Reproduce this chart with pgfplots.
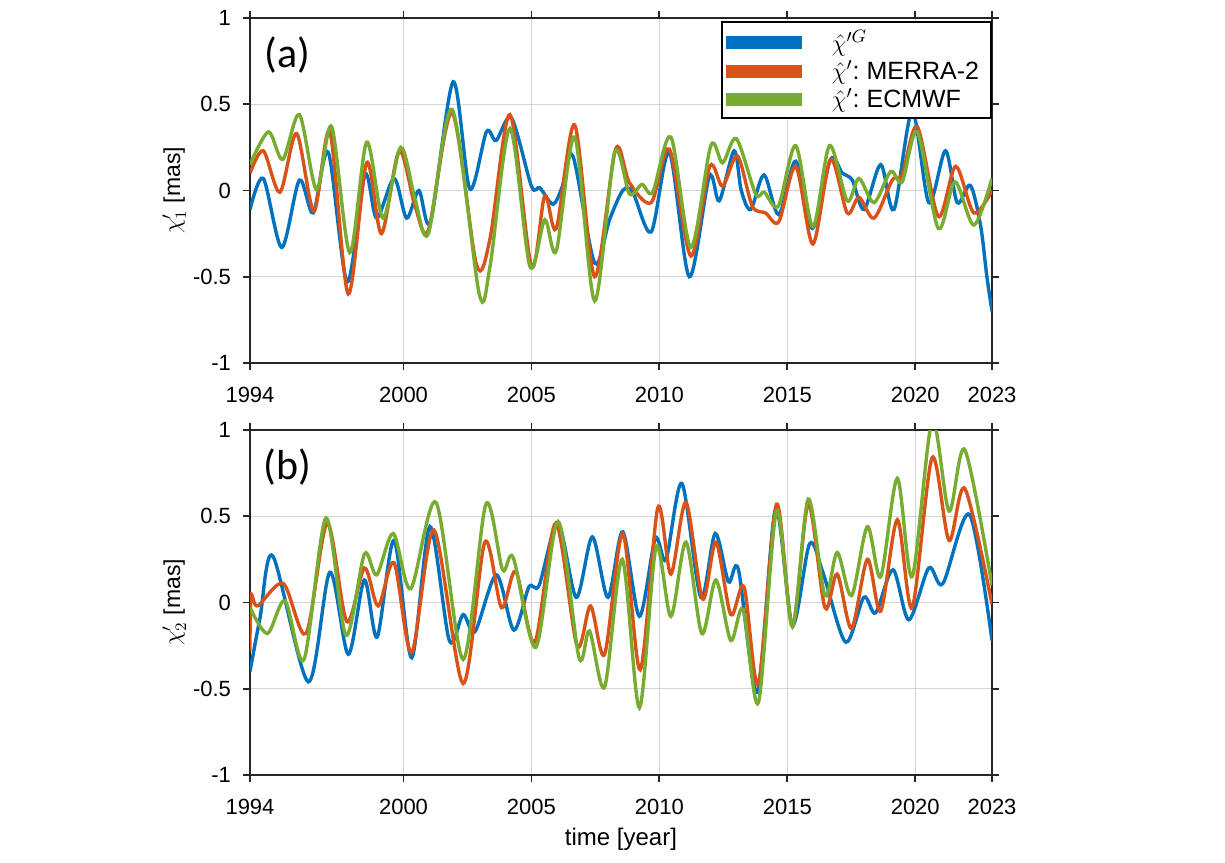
\documentclass[border=0pt]{standalone}
\usepackage{pgfplots}
\pgfplotsset{compat=1.18}
\usepackage{fontspec}
\setmainfont{Liberation Sans}
\newfontfamily\calibri{Carlito}
\definecolor{mblue}{rgb}{0,0.447,0.741}
\definecolor{morange}{rgb}{0.85,0.325,0.098}
\definecolor{mgreen}{rgb}{0.466,0.674,0.188}
\pgfplotsset{
  myax/.style={
    scale only axis, width=371pt, height=172.5pt,
    xmin=1994, xmax=2023, ymin=-1, ymax=1,
    xtick={1994,2000,2005,2010,2015,2020,2023},
    xticklabels={1994,2000,2005,2010,2015,2020,2023},
    ytick={-1,-0.5,0,0.5,1},
    yticklabels={-1,-0.5,0,0.5,1},
    grid=major, grid style={black!17, line width=0.7pt},
    tick align=outside, tick pos=both,
    xticklabel pos=lower, yticklabel pos=left,
    major tick length=3.5pt,
    axis line style={line width=0.9pt, black!85},
    tick style={line width=0.9pt, black!85},
    ticklabel style={font=\fontsize{11}{13}\selectfont},
    xticklabel style={yshift=-5pt},
    yticklabel style={xshift=-2.5pt},
    every axis y label/.style={at={(rel axis cs:-0.102,0.5)}, rotate=90, anchor=center, font=\fontsize{11.5}{13}\selectfont},
    every axis x label/.style={at={(rel axis cs:0.5,0)}, yshift=-32pt, anchor=center, font=\fontsize{12}{14}\selectfont},
    every axis plot/.append style={line width=1.7pt, smooth},
  }
}
\begin{document}
\begin{tikzpicture}
\path[use as bounding box] (0,0) rectangle (612.5pt,431pt);
% ---------------- panel (a)
\begin{axis}[myax, at={(125pt,249.5pt)}, anchor=south west,
  ylabel={$\chi_1'$ [mas]},
  legend style={at={(rel axis cs:1,0.99)}, anchor=north east, draw=black, line width=0.9pt,
    font=\fontsize{12.5}{14}\selectfont, row sep=-0.9pt, inner xsep=3pt, inner ysep=2pt,
    cells={anchor=west}},
  legend image code/.code={\draw[#1, line width=6.3pt, overlay] (-1pt,0pt) -- (37pt,0pt); \path[draw=none, fill=none] (0pt,0pt) -- (50pt,0pt);},
  legend cell align=left]
\addplot[mblue] coordinates {
(1994.0,-0.11) (1994.52,0.07) (1995.24,-0.33) (1995.93,0.06) (1996.47,-0.13)
(1997.06,0.22) (1997.8,-0.53) (1998.49,0.09) (1998.95,-0.16) (1999.63,0.07)
(2000.12,-0.16) (2000.6,0.0) (2001.06,-0.18) (2001.94,0.63) (2002.59,0.01)
(2003.24,0.34) (2003.62,0.29) (2004.22,0.42) (2005.0,0.025) (2005.33,0.015)
(2005.84,-0.08) (2006.2,0.02) (2006.62,0.2) (2007.47,-0.42) (2008.05,-0.17)
(2008.57,0.0) (2008.96,-0.01) (2009.68,-0.24) (2010.39,0.22) (2011.17,-0.5)
(2011.95,0.08) (2012.34,-0.06) (2012.92,0.23) (2013.2,0.0) (2013.57,-0.11)
(2014.09,0.09) (2014.67,-0.14) (2015.33,0.17) (2015.98,-0.22) (2016.69,0.18)
(2017.15,0.10) (2017.54,0.06) (2018.0,-0.11) (2018.65,0.15) (2019.17,-0.11)
(2019.88,0.46) (2020.53,-0.07) (2021.18,0.23) (2021.64,-0.07) (2022.15,0.03)
(2022.55,-0.2) (2022.8,-0.5) (2023.0,-0.7)
};
\addlegendentry{$\hat{\chi}'^{G}$\hspace*{1pt}}
\addplot[morange] coordinates {
(1994.0,0.10) (1994.52,0.23) (1995.17,-0.01) (1995.82,0.33) (1996.5,-0.12)
(1997.12,0.34) (1997.84,-0.6) (1998.56,0.16) (1999.14,-0.25) (1999.83,0.23)
(2000.45,-0.09) (2000.97,-0.23) (2001.9,0.45) (2002.85,-0.43) (2003.38,-0.28)
(2004.16,0.44) (2005.0,-0.44) (2005.52,-0.03) (2005.97,-0.22) (2006.69,0.38)
(2007.47,-0.5) (2008.29,0.24) (2008.83,0.045) (2009.68,-0.07) (2010.39,0.24)
(2011.23,-0.38) (2011.97,0.14) (2012.47,0.025) (2013.05,0.2) (2013.63,-0.09)
(2014.15,-0.13) (2014.67,-0.18) (2015.33,0.14) (2016.0,-0.31) (2016.69,0.18)
(2017.34,-0.13) (2017.8,-0.04) (2018.39,-0.16) (2019.1,0.06) (2019.49,0.09)
(2020.08,0.37) (2020.9,-0.15) (2021.58,0.14) (2022.29,-0.13) (2023.0,0.0)
};
\addlegendentry{$\hat{\chi}'$:\ MERRA-2\hspace*{1pt}}
\addplot[mgreen] coordinates {
(1994.0,0.15) (1994.72,0.34) (1995.28,0.18) (1995.93,0.44) (1996.6,0.005)
(1997.19,0.37) (1997.9,-0.36) (1998.56,0.28) (1999.2,-0.16) (1999.89,0.25)
(2000.45,-0.05) (2000.97,-0.25) (2001.9,0.47) (2002.96,-0.6) (2003.38,-0.44)
(2004.16,0.36) (2004.94,-0.44) (2005.52,-0.17) (2005.97,-0.35) (2006.69,0.31)
(2007.47,-0.64) (2008.25,0.22) (2008.83,-0.02) (2009.32,0.035) (2009.74,-0.01)
(2010.45,0.31) (2011.23,-0.33) (2012.01,0.26) (2012.47,0.16) (2013.01,0.30)
(2013.76,-0.02) (2014.1,-0.01) (2014.65,-0.09) (2015.33,0.26) (2016.0,-0.21)
(2016.65,0.26) (2017.34,-0.06) (2017.8,0.07) (2018.39,-0.07) (2019.04,0.11)
(2019.49,0.05) (2020.08,0.34) (2020.9,-0.22) (2021.55,0.05) (2022.29,-0.2)
(2023.0,0.07)
};
\addlegendentry{$\hat{\chi}'$:\ ECMWF}
\node[font=\calibri\fontsize{21}{25}\selectfont] at (rel axis cs:0.05,0.893) {(a)};
\end{axis}
% ---------------- panel (b)
\begin{axis}[myax, at={(125pt,43.5pt)}, anchor=south west,
  ylabel={$\chi_2'$ [mas]}, xlabel={time [year]}]
\addplot[mblue] coordinates {
(1994.0,-0.4) (1994.39,-0.09) (1994.89,0.27) (1996.28,-0.46) (1997.12,0.175)
(1997.84,-0.3) (1998.47,0.13) (1998.97,-0.2) (1999.63,0.36) (2000.32,-0.32)
(2001.03,0.44) (2001.79,-0.22) (2002.33,-0.07) (2002.79,-0.17) (2003.63,0.16)
(2004.31,-0.16) (2004.9,0.09) (2005.3,0.1) (2006.04,0.46) (2006.75,0.03)
(2007.38,0.38) (2007.99,0.03) (2008.57,0.41) (2009.22,-0.08) (2009.84,0.37)
(2010.26,0.25) (2010.88,0.69) (2011.62,0.03) (2012.18,0.4) (2012.7,0.12)
(2013.09,0.19) (2013.83,-0.52) (2014.54,0.54) (2015.2,-0.13) (2015.87,0.34)
(2016.4,0.17) (2017.28,-0.23) (2017.99,0.03) (2018.45,-0.06) (2019.13,0.19)
(2019.75,-0.1) (2020.53,0.2) (2021.08,0.11) (2022.12,0.51) (2023.0,-0.22)
};
\addplot[morange] coordinates {
(1994.0,-0.28) (1994.04,0.04) (1994.3,-0.02) (1995.3,0.11) (1996.19,-0.18)
(1997.02,0.46) (1997.78,-0.11) (1998.47,0.2) (1999.01,-0.02) (1999.63,0.23)
(2000.32,-0.29) (2001.19,0.42) (2002.33,-0.47) (2003.18,0.35) (2003.83,-0.03)
(2004.39,0.18) (2005.13,-0.23) (2005.95,0.46) (2006.78,-0.25) (2007.31,-0.02)
(2007.86,-0.3) (2008.57,0.40) (2009.25,-0.39) (2009.94,0.55) (2010.45,0.165)
(2011.04,0.58) (2011.69,0.02) (2012.21,0.35) (2012.79,-0.07) (2013.31,0.09)
(2013.87,-0.47) (2014.58,0.57) (2015.2,-0.14) (2015.82,0.57) (2016.47,-0.03)
(2016.95,0.165) (2017.51,-0.15) (2018.13,0.25) (2018.65,-0.05) (2019.3,0.48)
(2019.88,-0.03) (2020.66,0.84) (2021.32,0.36) (2021.94,0.66) (2023.0,-0.01)
};
\addplot[mgreen] coordinates {
(1994.0,-0.03) (1994.68,-0.18) (1995.37,0.01) (1996.11,-0.33) (1996.97,0.49)
(1997.75,-0.19) (1998.47,0.28) (1998.95,0.16) (1999.6,0.4) (2000.28,0.08)
(2001.27,0.58) (2002.33,-0.33) (2003.22,0.57) (2003.87,0.19) (2004.29,0.26)
(2005.17,-0.26) (2006.04,0.47) (2006.86,-0.32) (2007.27,-0.165) (2007.86,-0.49)
(2008.55,0.25) (2009.22,-0.61) (2009.87,0.32) (2010.45,-0.08) (2011.04,0.35)
(2011.66,-0.18) (2012.21,0.13) (2012.79,-0.22) (2013.27,-0.04) (2013.87,-0.58)
(2014.58,0.53) (2015.2,-0.14) (2015.82,0.6) (2016.47,0.04) (2016.95,0.29)
(2017.51,0.04) (2018.13,0.44) (2018.65,0.15) (2019.3,0.72) (2019.88,0.15)
(2020.66,1.05) (2021.32,0.53) (2021.94,0.885) (2023.0,0.1)
};
\node[font=\calibri\fontsize{21}{25}\selectfont] at (rel axis cs:0.05,0.893) {(b)};
\end{axis}
\end{tikzpicture}
\end{document}
